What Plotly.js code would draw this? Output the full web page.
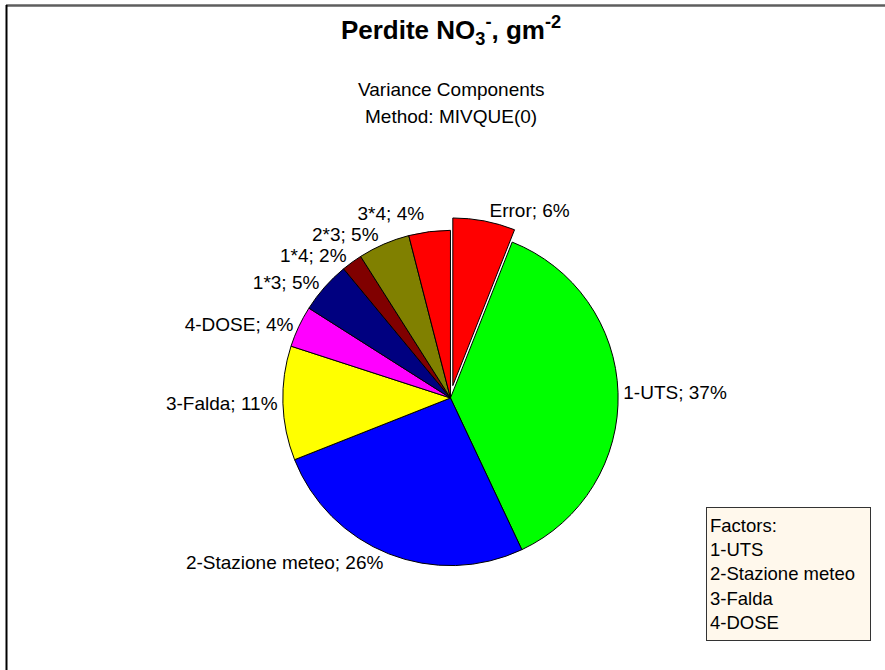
<!DOCTYPE html>
<html>
<head>
<meta charset="utf-8">
<script src="https://cdn.plot.ly/plotly-3.0.1.min.js"></script>
<style>
  html, body { margin: 0; padding: 0; background: #ffffff; }
  #chart { width: 885px; height: 670px; }
  #chart path.textline { display: none; }
</style>
</head>
<body>
<div id="chart"></div>
<script>
// ---- data ----
const categories = ['Error', '1-UTS', '2-Stazione meteo', '3-Falda', '4-DOSE', '1*3', '1*4', '2*3', '3*4'];
const percents = [6, 37, 26, 11, 4, 5, 2, 5, 4];
const sliceColors = ['#ff0000', '#00ff00', '#0000ff', '#ffff00', '#ff00ff', '#000080', '#800000', '#808000', '#ff0000'];
const pulledSlice = 'Error';
const factorLabels = ['1-UTS', '2-Stazione meteo', '3-Falda', '4-DOSE'];
const titleText = '<b>Perdite NO<sub>3</sub><sup>-</sup>, gm<sup>-2</sup></b>';
const subtitleLines = ['Variance Components', 'Method: MIVQUE(0)'];

const FONT = 'Liberation Sans, Arial, Helvetica, sans-serif';
const W = 885, H = 670;

const trace = {
  type: 'pie',
  labels: categories,
  values: percents,
  sort: false,
  direction: 'clockwise',
  rotation: 0,
  pull: categories.map(c => c === pulledSlice ? 0.075 : 0),
  marker: { colors: sliceColors, line: { color: '#000000', width: 1 } },
  textposition: 'outside',
  texttemplate: '%{label}; %{percent:.0%}',
  outsidetextfont: { family: FONT, size: 19, color: '#000000' },
  hoverinfo: 'label+percent',
  showlegend: false,
  automargin: false,
  domain: { x: [0.3050, 0.7130], y: [0.1370, 0.6750] }
};

const annotations = [
  {
    xref: 'paper', yref: 'paper', x: 451 / W, y: 1 - 90 / H,
    xanchor: 'center', yanchor: 'middle', showarrow: false,
    text: subtitleLines[0], font: { family: FONT, size: 19, color: '#000000' }
  },
  {
    xref: 'paper', yref: 'paper', x: 451 / W, y: 1 - 116 / H,
    xanchor: 'center', yanchor: 'middle', showarrow: false,
    text: subtitleLines[1], font: { family: FONT, size: 19, color: '#000000' }
  },
  {
    xref: 'paper', yref: 'paper', x: 706 / W, y: 1 - 507 / H,
    xanchor: 'left', yanchor: 'top', showarrow: false, align: 'left', valign: 'middle',
    text: ['Factors:'].concat(factorLabels).join('<br>'),
    font: { family: FONT, size: 18.5, color: '#000000' },
    bgcolor: '#fff8ec', bordercolor: '#333333', borderwidth: 1, borderpad: 3,
    width: 157, height: 126
  }
];

const shapes = [
  { type: 'line', xref: 'paper', yref: 'paper', x0: 6 / W, x1: 1, y0: 1 - 5.5 / H, y1: 1 - 5.5 / H,
    line: { color: '#5e5e5e', width: 2.5 } },
  { type: 'line', xref: 'paper', yref: 'paper', x0: 6.5 / W, x1: 6.5 / W, y0: 0, y1: 1 - 5 / H,
    line: { color: '#000000', width: 2 } }
];

const layout = {
  width: W, height: H,
  margin: { l: 0, r: 0, t: 0, b: 0 },
  paper_bgcolor: '#ffffff',
  plot_bgcolor: '#ffffff',
  font: { family: FONT, size: 19, color: '#000000' },
  title: {
    text: titleText,
    font: { family: FONT, size: 26, color: '#000000' },
    x: 451 / W, xref: 'paper', xanchor: 'center',
    y: 1 - 30 / H, yref: 'container', yanchor: 'middle'
  },
  annotations: annotations,
  shapes: shapes,
  showlegend: false
};

Plotly.newPlot('chart', [trace], layout, { displayModeBar: false, staticPlot: true });
</script>
</body>
</html>
